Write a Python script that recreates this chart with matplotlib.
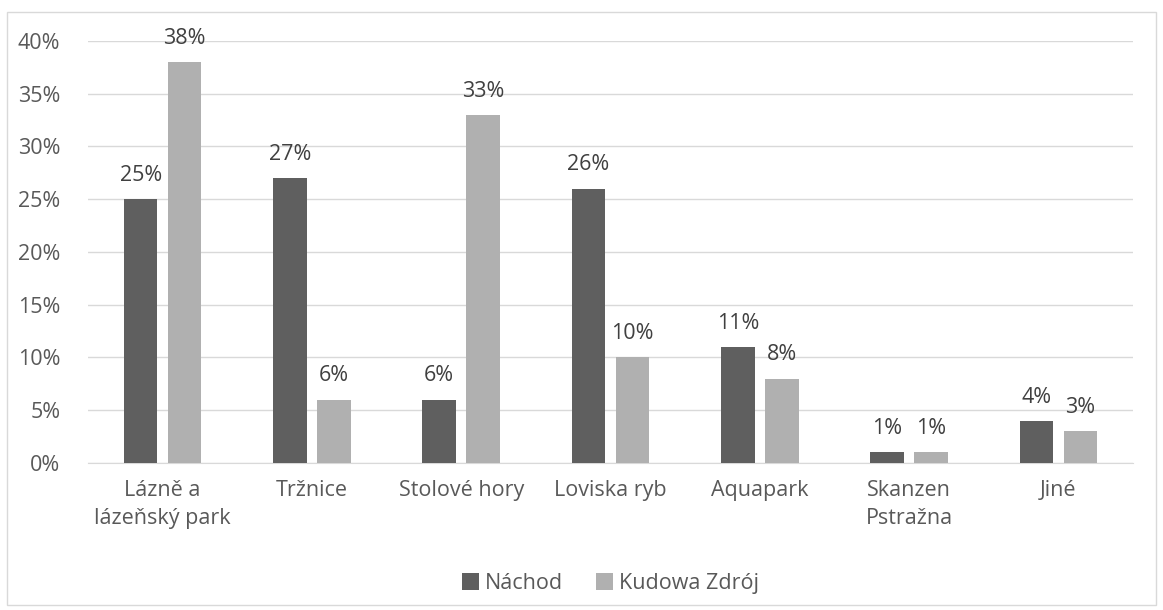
import numpy as np
import matplotlib.pyplot as plt
from matplotlib.patches import Rectangle

categories = ['Lázně a\nlázeňský park', 'Tržnice', 'Stolové hory', 'Loviska ryb',
              'Aquapark', 'Skanzen\nPstražna', 'Jiné']
nachod = [25, 27, 6, 26, 11, 1, 4]
kudowa = [38, 6, 33, 10, 8, 1, 3]
yticks = [0, 5, 10, 15, 20, 25, 30, 35, 40]

plt.rcParams['font.family'] = ['Open Sans', 'DejaVu Sans']
text_color = '#595959'
fs = 15.5

fig = plt.figure(figsize=(11.63, 6.10), dpi=100)
ax = fig.add_axes([0.0757, 0.241, 0.8985, 0.692])

# outer chart border
fig.patches.append(Rectangle((0.006, 0.008), 0.988, 0.972, transform=fig.transFigure,
                             fill=False, edgecolor='#d9d9d9', linewidth=1))

x = np.arange(len(categories))
w = 0.225
gap = 0.07
b1 = ax.bar(x - (w + gap) / 2, nachod, w, color='#5f5f5f', label='Náchod', zorder=3)
b2 = ax.bar(x + (w + gap) / 2, kudowa, w, color='#b0b0b0', label='Kudowa Zdrój', zorder=3)

for bars, vals in ((b1, nachod), (b2, kudowa)):
    for rect, v in zip(bars, vals):
        ax.text(rect.get_x() + rect.get_width() / 2, v + 1.25, f'{v}%',
                ha='center', va='bottom', fontsize=fs, color='#404040')

ax.set_xlim(-0.5, len(categories) - 0.5)
ax.set_ylim(0, 40)
ax.set_yticks(yticks)
ax.set_yticklabels([f'{t}%' for t in yticks])
ax.set_xticks(x)
ax.set_xticklabels(categories, linespacing=1.45)
ax.tick_params(axis='both', length=0, labelsize=fs, colors=text_color)
ax.tick_params(axis='x', pad=12)
ax.tick_params(axis='y', pad=20)
ax.grid(axis='y', color='#d9d9d9', linewidth=1, zorder=0)
for s in ['top', 'right', 'left']:
    ax.spines[s].set_visible(False)
ax.spines['bottom'].set_color('#d9d9d9')

leg = ax.legend(loc='upper center', bbox_to_anchor=(0.5, -0.215), ncol=2, frameon=False,
                fontsize=fs, handlelength=0.8, handleheight=0.8, columnspacing=1.5,
                handletextpad=0.3)
for t in leg.get_texts():
    t.set_color(text_color)

fig.savefig('out.png', dpi=100)
